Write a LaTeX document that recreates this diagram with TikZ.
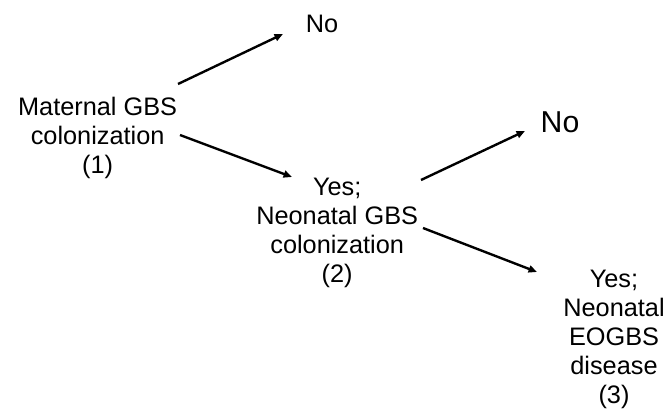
\documentclass[tikz,border=0pt]{standalone}
\usepackage{fontspec}
\setmainfont{Liberation Sans}
\usetikzlibrary{arrows.meta, positioning}

\begin{document}
\begin{tikzpicture}[
  every node/.style={font=\fontsize{18}{20.6}\selectfont},
  stage/.style={align=center, inner sep=0pt},
  branch/.style={-{Triangle[length=6pt, width=5pt]}, line width=1.7pt},
]
\useasboundingbox (0,0) rectangle (16.8,-10.475);

% Stages
\node[stage] (mat) at (2.44, -3.45) {Maternal GBS\\colonization\\(1)};
\node[stage] (noA) at (8.05, -0.6) {No};
\node[stage] (neo) at (8.43, -5.83) {Yes;\\Neonatal GBS\\colonization\\(2)};
\node[stage, font=\fontsize{21.5}{24}\selectfont] (noB) at (14.0, -3.05) {No};
\node[stage] (eog) at (15.35, -8.48) {Yes;\\Neonatal\\EOGBS\\disease\\(3)};

% Branches
\draw[branch] ([shift={(2.01,1.35)}]mat.center) -- ([shift={(-0.975,-0.25)}]noA.center);
\draw[branch] ([shift={(2.06,0.075)}]mat.center) -- ([shift={(-1.13,1.405)}]neo.center);
\draw[branch] ([shift={(2.095,1.33)}]neo.center) -- ([shift={(-0.875,-0.225)}]noB.center);
\draw[branch] ([shift={(2.145,0.13)}]neo.center) -- ([shift={(-1.925,1.68)}]eog.center);

\end{tikzpicture}
\end{document}
